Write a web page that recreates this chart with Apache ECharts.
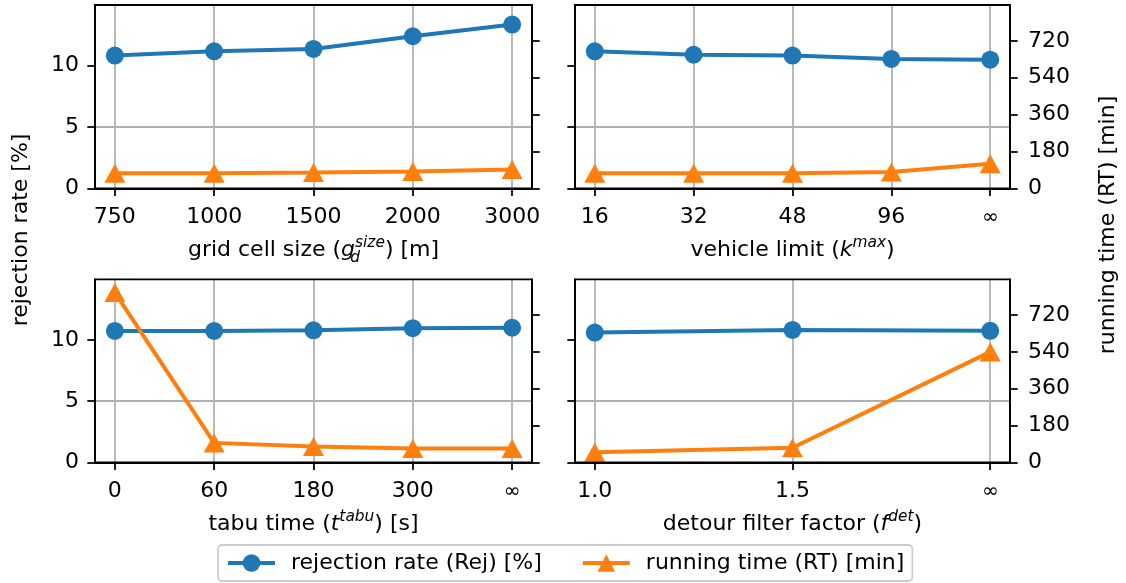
<!DOCTYPE html>
<html><head><meta charset="utf-8">
<script src="https://cdn.jsdelivr.net/npm/echarts@6/dist/echarts.min.js"></script>
<style>html,body{margin:0;padding:0;background:#fff}#c{width:1126px;height:583px}</style>
</head><body><div id="c"></div>
<script>
// ---- data ----
const gridCats = ['750', '1000', '1500', '2000', '3000'];
const gridRej = [10.83, 11.18, 11.37, 12.41, 13.36];
const gridRT = [73, 73, 77, 82, 92];

const vehCats = ['16', '32', '48', '96', '∞'];
const vehRej = [11.18, 10.90, 10.83, 10.56, 10.50];
const vehRT = [73, 73, 74, 80, 120];

const tabuCats = ['0', '60', '180', '300', '∞'];
const tabuRej = [10.74, 10.74, 10.79, 10.96, 11.00];
const tabuRT = [830, 95, 77, 67, 67];

const detCats = ['1.0', '1.5', '∞'];
const detRej = [10.61, 10.82, 10.75];
const detRT = [49, 71, 540];

const rejTicks = [0, 5, 10];
const rtTicks = [0, 180, 360, 540, 720];
const rejMax = 14.96;
const rtMax = 895;

const rejName = 'rejection rate (Rej) [%]';
const rtName = 'running time (RT) [min]';

// ---- styling ----
const F = 'DejaVu Sans';
const BLUE = '#1f77b4', ORANGE = '#ff7f0e';
const LW = 1.76;
const FS = 22;
const DLW = 4;

const panels = [
  {cats: gridCats, rej: gridRej, rt: gridRT, col: 0, left: 95, top: 5, width: 437, height: 183.3,
   name: '{n|grid cell size (}{i|g}{sub|d}{sup|size}{n|) [m]}'},
  {cats: vehCats, rej: vehRej, rt: vehRT, col: 1, left: 575, top: 5, width: 435, height: 183.3,
   name: '{n|vehicle limit (}{i|k}{sup|max}{n|)}'},
  {cats: tabuCats, rej: tabuRej, rt: tabuRT, col: 0, left: 95, top: 279.3, width: 437, height: 183,
   name: '{n|tabu time (}{i|t}{sup|tabu}{n|) [s]}'},
  {cats: detCats, rej: detRej, rt: detRT, col: 1, left: 575, top: 279.3, width: 435, height: 183,
   name: '{n|detour filter factor (}{i|f}{sup|det}{n|)}'}
];

const nameRich = {
  n: {fontSize: FS, lineHeight: 30, fontFamily: F, color: '#000'},
  i: {fontSize: FS, lineHeight: 30, fontFamily: F, color: '#000', fontStyle: 'italic'},
  sup: {fontSize: 15.4, lineHeight: 15, fontFamily: F, color: '#000', fontStyle: 'italic', verticalAlign: 'top'},
  sub: {fontSize: 15.4, lineHeight: 9, fontFamily: F, color: '#000', fontStyle: 'italic', verticalAlign: 'bottom', width: 0}
};

const grids = [], xAxes = [], yAxes = [], series = [];
panels.forEach((p, i) => {
  const n = p.cats.length;
  const m = 0.05 * (n - 1);
  const idx = p.cats.map((c, k) => k);
  grids.push({left: p.left, top: p.top, width: p.width, height: p.height, show: true,
    borderColor: '#000', borderWidth: LW, backgroundColor: 'transparent', z: 5});
  xAxes.push({
    gridIndex: i, type: 'value', min: -m, max: n - 1 + m,
    axisLine: {show: true, onZero: false, lineStyle: {color: '#000', width: LW}},
    axisTick: {show: true, length: 7.7, customValues: idx, lineStyle: {color: '#000', width: LW}},
    axisLabel: {show: true, customValues: idx, margin: 18, color: '#000', fontSize: FS, fontFamily: F,
      formatter: v => { const c = p.cats[Math.round(v)]; return c === '∞' ? '{inf|∞}' : c; },
      rich: {inf: {fontSize: 20, lineHeight: 22, fontFamily: F, color: '#000'}}},
    splitLine: {show: true, lineStyle: {color: '#b0b0b0', width: LW}},
    name: p.name, nameLocation: 'middle', nameGap: 47,
    nameTextStyle: {fontSize: FS, fontFamily: F, color: '#000', rich: nameRich}
  });
  yAxes.push({
    gridIndex: i, type: 'value', position: 'left', min: 0, max: rejMax,
    axisLine: {show: true, onZero: false, lineStyle: {color: '#000', width: LW}},
    axisTick: {show: true, length: 7.7, customValues: rejTicks, lineStyle: {color: '#000', width: LW}},
    axisLabel: {show: p.col === 0, customValues: rejTicks, margin: 16, color: '#000', fontSize: FS, fontFamily: F},
    splitLine: {show: true, showMinLine: false, showMaxLine: false, lineStyle: {color: '#b0b0b0', width: LW}}
  });
  yAxes.push({
    gridIndex: i, type: 'value', position: 'right', min: 0, max: rtMax,
    axisLine: {show: true, onZero: false, lineStyle: {color: '#000', width: LW}},
    axisTick: {show: true, length: 7.7, customValues: rtTicks, lineStyle: {color: '#000', width: LW}},
    axisLabel: {show: p.col === 1, customValues: rtTicks, margin: 18, color: '#000', fontSize: FS, fontFamily: F},
    splitLine: {show: false}
  });
  series.push({
    type: 'line', name: rejName, xAxisIndex: i, yAxisIndex: 2 * i,
    data: p.rej.map((v, k) => [k, v]),
    symbol: 'circle', symbolSize: 18, showAllSymbol: true,
    lineStyle: {color: BLUE, width: DLW}, itemStyle: {color: BLUE},
    emphasis: {disabled: true}, z: 2
  });
  series.push({
    type: 'line', name: rtName, xAxisIndex: i, yAxisIndex: 2 * i + 1,
    data: p.rt.map((v, k) => [k, v]),
    symbol: 'triangle', symbolSize: [21, 19], showAllSymbol: true,
    lineStyle: {color: ORANGE, width: DLW}, itemStyle: {color: ORANGE},
    emphasis: {disabled: true}, z: 3
  });
});

const chart = echarts.init(document.getElementById('c'), null, {renderer: 'canvas'});
chart.setOption({
  animation: false,
  backgroundColor: '#fff',
  grid: grids, xAxis: xAxes, yAxis: yAxes, series: series,
  legend: {
    data: [rejName, rtName], left: 218, top: 545, orient: 'horizontal',
    itemWidth: 47, itemHeight: 22, itemGap: 39, selectedMode: false,
    padding: [7, 8, 7, 8], borderColor: '#cccccc', borderWidth: LW, borderRadius: 4,
    backgroundColor: '#fff',
    lineStyle: {width: DLW},
    textStyle: {fontSize: FS, fontFamily: F, color: '#000', padding: [0, 0, 0, 11]}
  },
  graphic: [
    {type: 'text', x: 21, y: 230, rotation: Math.PI / 2,
     style: {text: 'rejection rate [%]', fontSize: FS, fontFamily: F, fill: '#000', align: 'center', verticalAlign: 'middle'}},
    {type: 'text', x: 1108, y: 225, rotation: Math.PI / 2,
     style: {text: 'running time (RT) [min]', fontSize: FS, fontFamily: F, fill: '#000', align: 'center', verticalAlign: 'middle'}}
  ]
});
</script></body></html>
